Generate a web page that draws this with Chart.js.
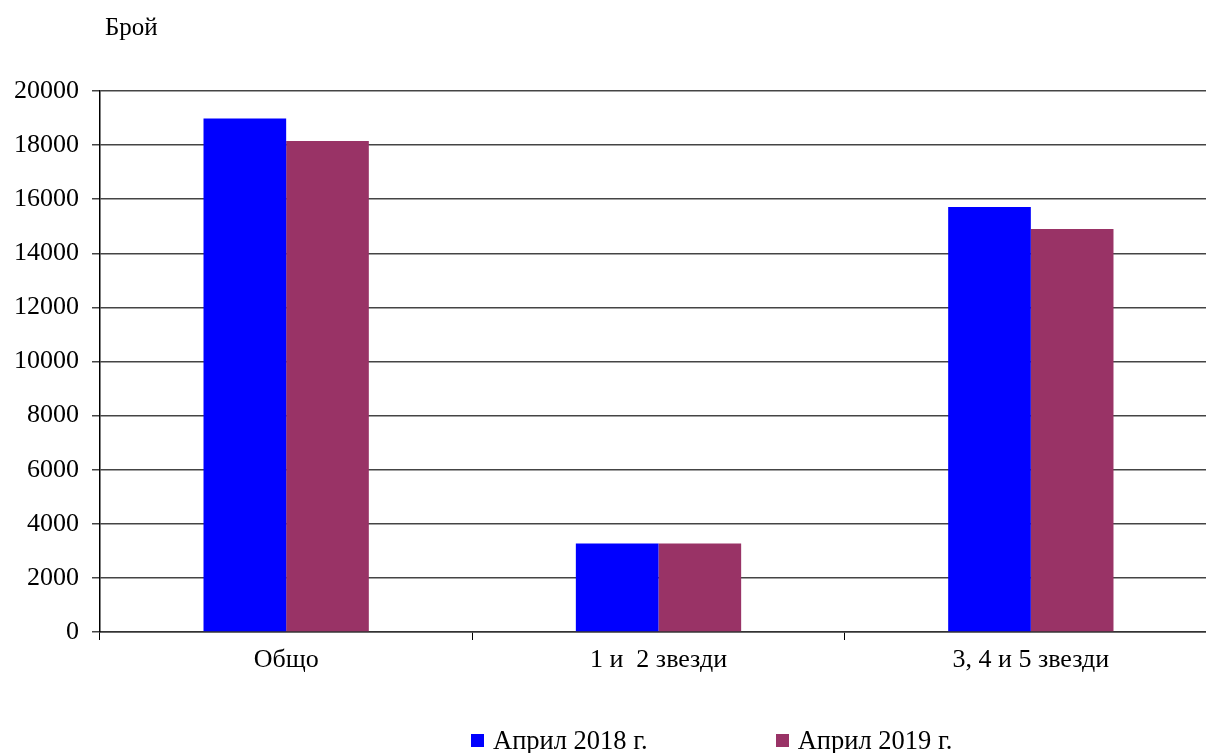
<!DOCTYPE html>
<html lang="bg">
<head>
  <meta charset="UTF-8" />
  <title>Брой</title>
  <script src="https://cdn.jsdelivr.net/npm/chart.js"></script>
  <style>
    body {
      margin: 0;
      background: #fff;
      font-family: 'Liberation Serif', 'Times New Roman', serif;
      overflow: hidden;
    }

    .wrap {
      position: relative;
      width: 1206px;
      height: 753px;
      overflow: hidden;
    }

    .box {
      position: absolute;
      left: 0;
      top: 0;
      width: 1218px;
      height: 753px;
    }

    .legend {
      position: absolute;
      left: 471px;
      top: 725px;
      display: flex;
      gap: 128px;
      font-size: 26.5px;
      color: #000;
    }

    .legend .item {
      display: flex;
      align-items: center;
    }

    .legend .sw {
      width: 13px;
      height: 13px;
      margin-right: 9px;
    }
  </style>
</head>
<body>
  <div class="wrap">
    <div class="box"><canvas id="chart"></canvas></div>
    <div class="legend" id="legend"></div>
  </div>

  <script>
    const categories = ['Общо', '1 и  2 звезди', '3, 4 и 5 звезди'];
    const april2018 = [18980, 3270, 15710];
    const april2019 = [18150, 3270, 14900];
    const seriesNames = ['Април 2018 г.', 'Април 2019 г.'];
    const seriesColors = ['#0000ff', '#993366'];
    const yTicks = [0, 2000, 4000, 6000, 8000, 10000, 12000, 14000, 16000, 18000, 20000];

    const font = { family: "'Liberation Serif', 'Times New Roman', serif", size: 26 };

    // "Брой" above the y axis
    const unitLabel = {
      id: 'unitLabel',
      afterDraw(chart) {
        const ctx = chart.ctx;
        ctx.save();
        ctx.font = "25px 'Liberation Serif', 'Times New Roman', serif";
        ctx.fillStyle = '#000';
        ctx.textBaseline = 'middle';
        ctx.fillText('Брой', chart.chartArea.left + 5, 28);
        ctx.restore();
      }
    };

    const chart = new Chart(document.getElementById('chart'), {
      type: 'bar',
      data: {
        labels: categories,
        datasets: [
          { label: seriesNames[0], data: april2018, backgroundColor: seriesColors[0] },
          { label: seriesNames[1], data: april2019, backgroundColor: seriesColors[1] }
        ]
      },
      options: {
        responsive: true,
        maintainAspectRatio: false,
        animation: false,
        layout: { padding: { top: 91, right: 1, bottom: 61, left: 0 } },
        datasets: {
          bar: { barPercentage: 1, categoryPercentage: 0.444, borderWidth: 0 }
        },
        plugins: {
          legend: { display: false },
          tooltip: { enabled: false }
        },
        scales: {
          x: {
            grid: { display: true, drawOnChartArea: false, tickLength: 8, color: '#000', lineWidth: 1 },
            border: { color: '#333', width: 1.5 },
            ticks: { color: '#000', font: font, padding: 5, maxRotation: 0 },
            afterFit(scale) { scale.height = 60; }
          },
          y: {
            min: 0,
            max: 20000,
            afterBuildTicks(scale) { scale.ticks = yTicks.map(v => ({ value: v })); },
            grid: { color: '#444', lineWidth: 1.5, tickLength: 8 },
            border: { color: '#000', width: 1.5 },
            ticks: { color: '#000', font: font, padding: 13, callback: v => String(v) },
            afterFit(scale) { scale.width = 100; }
          }
        }
      },
      plugins: [unitLabel]
    });

    const legend = document.getElementById('legend');
    chart.data.datasets.forEach(ds => {
      const item = document.createElement('div');
      item.className = 'item';
      item.innerHTML = `<span class="sw" style="background:${ds.backgroundColor}"></span><span>${ds.label}</span>`;
      legend.appendChild(item);
    });
  </script>
</body>
</html>
